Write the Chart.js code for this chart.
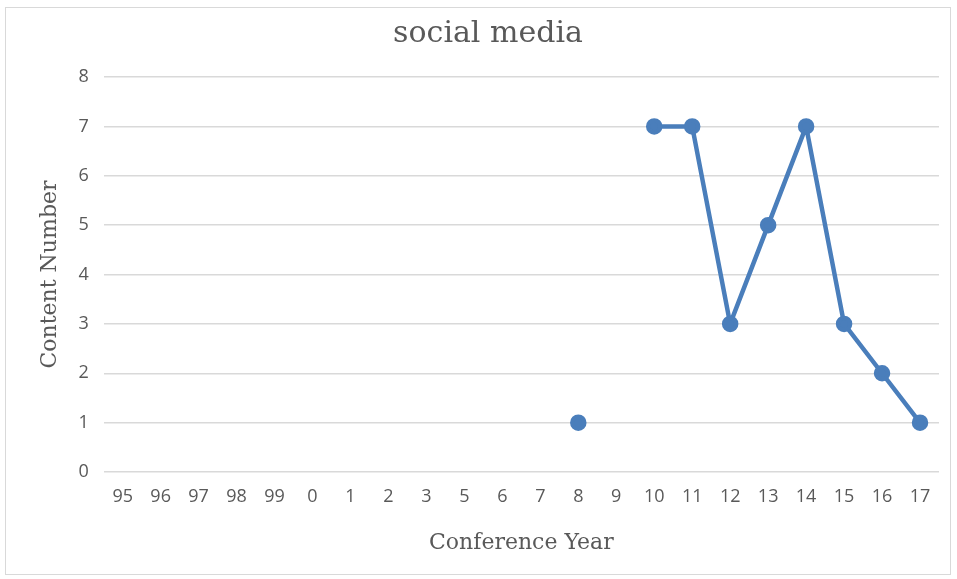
<!DOCTYPE html>
<html>
<head>
<meta charset="utf-8">
<script src="https://cdn.jsdelivr.net/npm/chart.js@4/dist/chart.umd.min.js"></script>
<style>
  html, body { margin: 0; padding: 0; background: #fff; }
  #frame {
    position: absolute; left: 5px; top: 7px; width: 946px; height: 568px;
    border: 1px solid #d9d9d9; box-sizing: border-box;
  }
  canvas { display: block; }
</style>
</head>
<body>
<div id="frame"><canvas id="chart" width="944" height="566"></canvas></div>
<script>
// conference years as shown on the axis
const years = ['95','96','97','98','99','0','1','2','3','5','6','7','8','9','10','11','12','13','14','15','16','17'];
// number of social media contents per year (null = no value)
const contentCounts = [null,null,null,null,null,null,null,null,null,null,null,null,1,null,7,7,3,5,7,3,2,1];
const yTicks = [0,1,2,3,4,5,6,7,8];

const blue = '#4a7ebb';
const serif = "'DejaVu Serif', serif";
const sans = "'Open Sans', 'Noto Sans', sans-serif";

new Chart(document.getElementById('chart'), {
  type: 'line',
  data: {
    labels: years,
    datasets: [{
      label: 'social media',
      data: contentCounts,
      borderColor: blue,
      backgroundColor: blue,
      borderWidth: 4.5,
      pointRadius: 6,
      pointHoverRadius: 6,
      spanGaps: false,
      tension: 0
    }]
  },
  options: {
    responsive: false,
    animation: false,
    layout: { padding: { left: 31, right: 11, top: 4, bottom: 14 } },
    plugins: {
      legend: { display: false },
      tooltip: { enabled: false },
      title: {
        display: true,
        text: 'social media',
        color: '#595959',
        font: { family: serif, size: 30, weight: 'normal' },
        padding: { top: 4, bottom: 25 }
      }
    },
    scales: {
      x: {
        offset: true,
        grid: { display: false, drawTicks: false },
        border: { display: false },
        ticks: { color: '#595959', font: { family: sans, size: 18 }, maxRotation: 0, autoSkip: false, padding: 14 },
        title: { display: true, text: 'Conference Year', color: '#595959', font: { family: serif, size: 22 }, padding: { top: 8 } }
      },
      y: {
        min: 0, max: 8,
        afterBuildTicks: axis => { axis.ticks = yTicks.map(v => ({ value: v })); },
        grid: { color: '#d9d9d9', lineWidth: 1.5, drawTicks: false },
        border: { display: false },
        ticks: { color: '#595959', font: { family: sans, size: 18 }, padding: 15 },
        title: { display: true, text: 'Content Number', color: '#595959', font: { family: serif, size: 22 }, padding: { top: 0, bottom: 0 } }
      }
    }
  }
});
</script>
</body>
</html>
